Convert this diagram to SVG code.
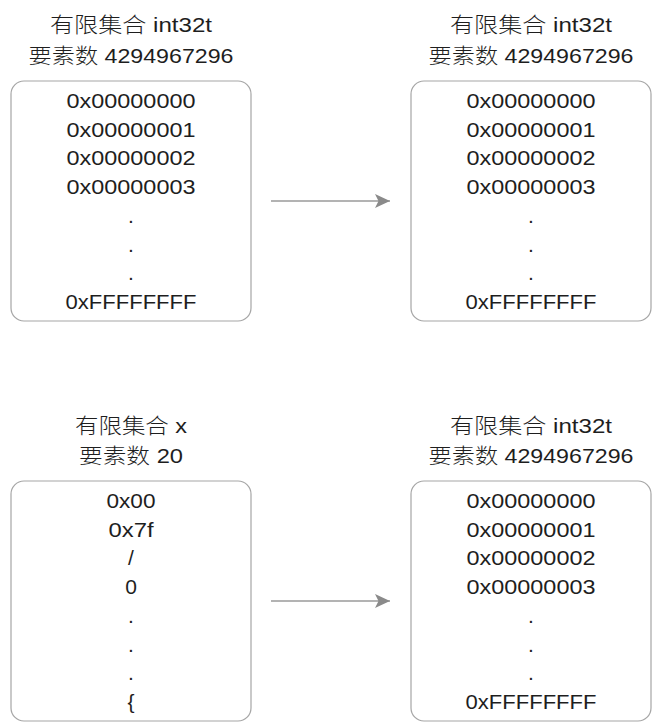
<svg xmlns="http://www.w3.org/2000/svg" width="662" height="722" viewBox="0 0 662 722">
<style>
.box{fill:#ffffff;stroke:#a6a6a6;stroke-width:1.2}
.t{font-family:"Liberation Sans","Noto Sans CJK SC",Arial,sans-serif;font-size:21px;fill:#1e1e1e;text-anchor:middle}
.k{font-family:"Noto Sans CJK SC",sans-serif;font-weight:300}
.c{stroke:#b3b3b3;stroke-width:2;fill:none}
</style>
<defs>
<marker id="ah" markerWidth="16" markerHeight="16" refX="15" refY="7" orient="auto" markerUnits="userSpaceOnUse">
<path d="M0,0 L15,7 L0,14 L3.5,7 Z" fill="#8a8a8a"/>
</marker>
</defs>
<rect width="662" height="722" fill="#ffffff"/>
<g id="connectors">
<line class="c" x1="271" y1="201" x2="390" y2="201" marker-end="url(#ah)"/>
<line class="c" x1="271" y1="601" x2="390" y2="601" marker-end="url(#ah)"/>
</g>
<g id="node-top-left">
<text class="t" x="131" y="32" textLength="162" lengthAdjust="spacingAndGlyphs"><tspan class="k">有限集合</tspan> int32t</text>
<text class="t" x="131" y="63" textLength="205" lengthAdjust="spacingAndGlyphs"><tspan class="k">要素数</tspan> 4294967296</text>
<rect class="box" x="11" y="81" width="240" height="240" rx="13"/>
<text class="t" x="131" y="108" textLength="129" lengthAdjust="spacingAndGlyphs">0x00000000</text>
<text class="t" x="131" y="136.7" textLength="129" lengthAdjust="spacingAndGlyphs">0x00000001</text>
<text class="t" x="131" y="165.4" textLength="129" lengthAdjust="spacingAndGlyphs">0x00000002</text>
<text class="t" x="131" y="194.1" textLength="129" lengthAdjust="spacingAndGlyphs">0x00000003</text>
<text class="t" x="131" y="222.8">.</text>
<text class="t" x="131" y="251.5">.</text>
<text class="t" x="131" y="280.2">.</text>
<text class="t" x="131" y="308.9" textLength="131" lengthAdjust="spacingAndGlyphs">0xFFFFFFFF</text>
</g>
<g id="node-top-right">
<text class="t" x="531" y="32" textLength="162" lengthAdjust="spacingAndGlyphs"><tspan class="k">有限集合</tspan> int32t</text>
<text class="t" x="531" y="63" textLength="205" lengthAdjust="spacingAndGlyphs"><tspan class="k">要素数</tspan> 4294967296</text>
<rect class="box" x="411" y="81" width="240" height="240" rx="13"/>
<text class="t" x="531" y="108" textLength="129" lengthAdjust="spacingAndGlyphs">0x00000000</text>
<text class="t" x="531" y="136.7" textLength="129" lengthAdjust="spacingAndGlyphs">0x00000001</text>
<text class="t" x="531" y="165.4" textLength="129" lengthAdjust="spacingAndGlyphs">0x00000002</text>
<text class="t" x="531" y="194.1" textLength="129" lengthAdjust="spacingAndGlyphs">0x00000003</text>
<text class="t" x="531" y="222.8">.</text>
<text class="t" x="531" y="251.5">.</text>
<text class="t" x="531" y="280.2">.</text>
<text class="t" x="531" y="308.9" textLength="131" lengthAdjust="spacingAndGlyphs">0xFFFFFFFF</text>
</g>
<g id="node-bottom-left">
<text class="t" x="131" y="433" textLength="112" lengthAdjust="spacingAndGlyphs"><tspan class="k">有限集合</tspan> x</text>
<text class="t" x="131" y="463" textLength="104" lengthAdjust="spacingAndGlyphs"><tspan class="k">要素数</tspan> 20</text>
<rect class="box" x="11" y="481" width="240" height="240" rx="13"/>
<text class="t" x="131" y="508" textLength="49" lengthAdjust="spacingAndGlyphs">0x00</text>
<text class="t" x="131" y="536.7" textLength="45" lengthAdjust="spacingAndGlyphs">0x7f</text>
<text class="t" x="131" y="565.4">/</text>
<text class="t" x="131" y="594.1">0</text>
<text class="t" x="131" y="622.8">.</text>
<text class="t" x="131" y="651.5">.</text>
<text class="t" x="131" y="680.2">.</text>
<text class="t" x="131" y="708.9">{</text>
</g>
<g id="node-bottom-right">
<text class="t" x="531" y="433" textLength="162" lengthAdjust="spacingAndGlyphs"><tspan class="k">有限集合</tspan> int32t</text>
<text class="t" x="531" y="463" textLength="205" lengthAdjust="spacingAndGlyphs"><tspan class="k">要素数</tspan> 4294967296</text>
<rect class="box" x="411" y="481" width="240" height="240" rx="13"/>
<text class="t" x="531" y="508" textLength="129" lengthAdjust="spacingAndGlyphs">0x00000000</text>
<text class="t" x="531" y="536.7" textLength="129" lengthAdjust="spacingAndGlyphs">0x00000001</text>
<text class="t" x="531" y="565.4" textLength="129" lengthAdjust="spacingAndGlyphs">0x00000002</text>
<text class="t" x="531" y="594.1" textLength="129" lengthAdjust="spacingAndGlyphs">0x00000003</text>
<text class="t" x="531" y="622.8">.</text>
<text class="t" x="531" y="651.5">.</text>
<text class="t" x="531" y="680.2">.</text>
<text class="t" x="531" y="708.9" textLength="131" lengthAdjust="spacingAndGlyphs">0xFFFFFFFF</text>
</g>
</svg>
